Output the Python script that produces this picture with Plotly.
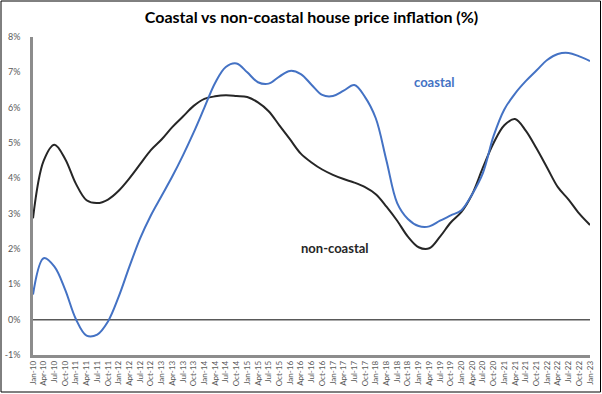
import plotly.graph_objects as go

quarters = []
for yr in range(10, 24):
    for m in ["Jan", "Apr", "Jul", "Oct"]:
        quarters.append(f"{m}-{yr:02d}")
quarters = quarters[:53]  # Jan-10 .. Jan-23

coastal = [0.71, 1.74, 1.50, 0.85, 0.02, -0.45, -0.42, -0.05, 0.65, 1.50,
           2.30, 2.95, 3.50, 4.05, 4.65, 5.30, 6.00, 6.70, 7.15, 7.25,
           7.00, 6.72, 6.68, 6.88, 7.04, 6.95, 6.65, 6.36, 6.33, 6.48,
           6.64, 6.30, 5.70, 4.50, 3.30, 2.85, 2.65, 2.64, 2.80, 2.95,
           3.10, 3.55, 4.15, 5.20, 5.95, 6.40, 6.75, 7.05, 7.35, 7.52,
           7.55, 7.45, 7.32]

non_coastal = [2.87, 4.50, 4.95, 4.55, 3.85, 3.38, 3.30, 3.40, 3.65, 4.00,
               4.40, 4.80, 5.10, 5.45, 5.75, 6.05, 6.25, 6.32, 6.35, 6.33,
               6.30, 6.15, 5.90, 5.50, 5.10, 4.70, 4.45, 4.25, 4.10, 3.98,
               3.88, 3.75, 3.55, 3.20, 2.80, 2.35, 2.05, 2.02, 2.35, 2.75,
               3.05, 3.55, 4.30, 5.00, 5.50, 5.68, 5.35, 4.85, 4.30, 3.75,
               3.40, 3.00, 2.68]

y_ticks = [-1, 0, 1, 2, 3, 4, 5, 6, 7, 8]
y_tick_labels = [f"{v}%" for v in y_ticks]

BLUE = "#4472C4"
DARK = "#262626"
GRAY = "#595959"

fig = go.Figure()
fig.add_trace(go.Scatter(x=quarters, y=non_coastal, mode="lines", name="non-coastal",
                         line=dict(color=DARK, width=2, shape="spline", smoothing=1.0)))
fig.add_trace(go.Scatter(x=quarters, y=coastal, mode="lines", name="coastal",
                         line=dict(color=BLUE, width=2, shape="spline", smoothing=1.0)))

# zero line
fig.add_shape(type="line", xref="paper", yref="y", x0=0, x1=1, y0=0, y1=0,
              line=dict(color="#595959", width=1.5), layer="below")

L, R, T, B = 33, 12, 37, 39
W, H = 602, 394
pw, ph = W - L - R, H - T - B
# outer border
fig.add_shape(type="rect", xref="paper", yref="paper",
              x0=(1 - L) / pw, x1=(W - 1.5 - L) / pw,
              y0=(H - B - (H - 2)) / ph, y1=(H - B - 1) / ph,
              line=dict(color="#000000", width=1))

fig.add_annotation(x=37.5, y=6.72, xref="x", yref="y", text="<b>coastal</b>",
                   showarrow=False, font=dict(family="Lato", size=13, color=BLUE))
fig.add_annotation(x=28.2, y=2.03, xref="x", yref="y", text="<b>non-coastal</b>",
                   showarrow=False, font=dict(family="Lato", size=13, color=DARK))

fig.update_layout(
    width=W, height=H,
    margin=dict(l=L, r=R, t=T, b=B, autoexpand=False),
    paper_bgcolor="white", plot_bgcolor="white",
    showlegend=False,
    title=dict(text="<b>Coastal vs non-coastal house price inflation (%)</b>",
               x=0.5, xref="paper", xanchor="center", y=1 - 17 / H, yanchor="middle",
               font=dict(family="Lato", size=16, color="#000000")),
    xaxis=dict(type="category", range=[0, 52], tickangle=-90,
               showline=True, linecolor="#8C8C8C", linewidth=2.5,
               showgrid=False, zeroline=False, ticks="",
               tickfont=dict(family="Lato", size=8, color=GRAY),
               automargin=False, fixedrange=True),
    yaxis=dict(range=[-1, 8], tickvals=y_ticks, ticktext=y_tick_labels,
               showline=True, linecolor="#8C8C8C", linewidth=2.5,
               showgrid=False, zeroline=False, ticks="",
               ticklabelstandoff=8,
               tickfont=dict(family="Lato", size=9, color=GRAY),
               automargin=False, fixedrange=True),
)

fig.write_html("out.html", config={"displayModeBar": False},
               post_script="document.body.style.margin='0';document.body.style.overflow='hidden';")
